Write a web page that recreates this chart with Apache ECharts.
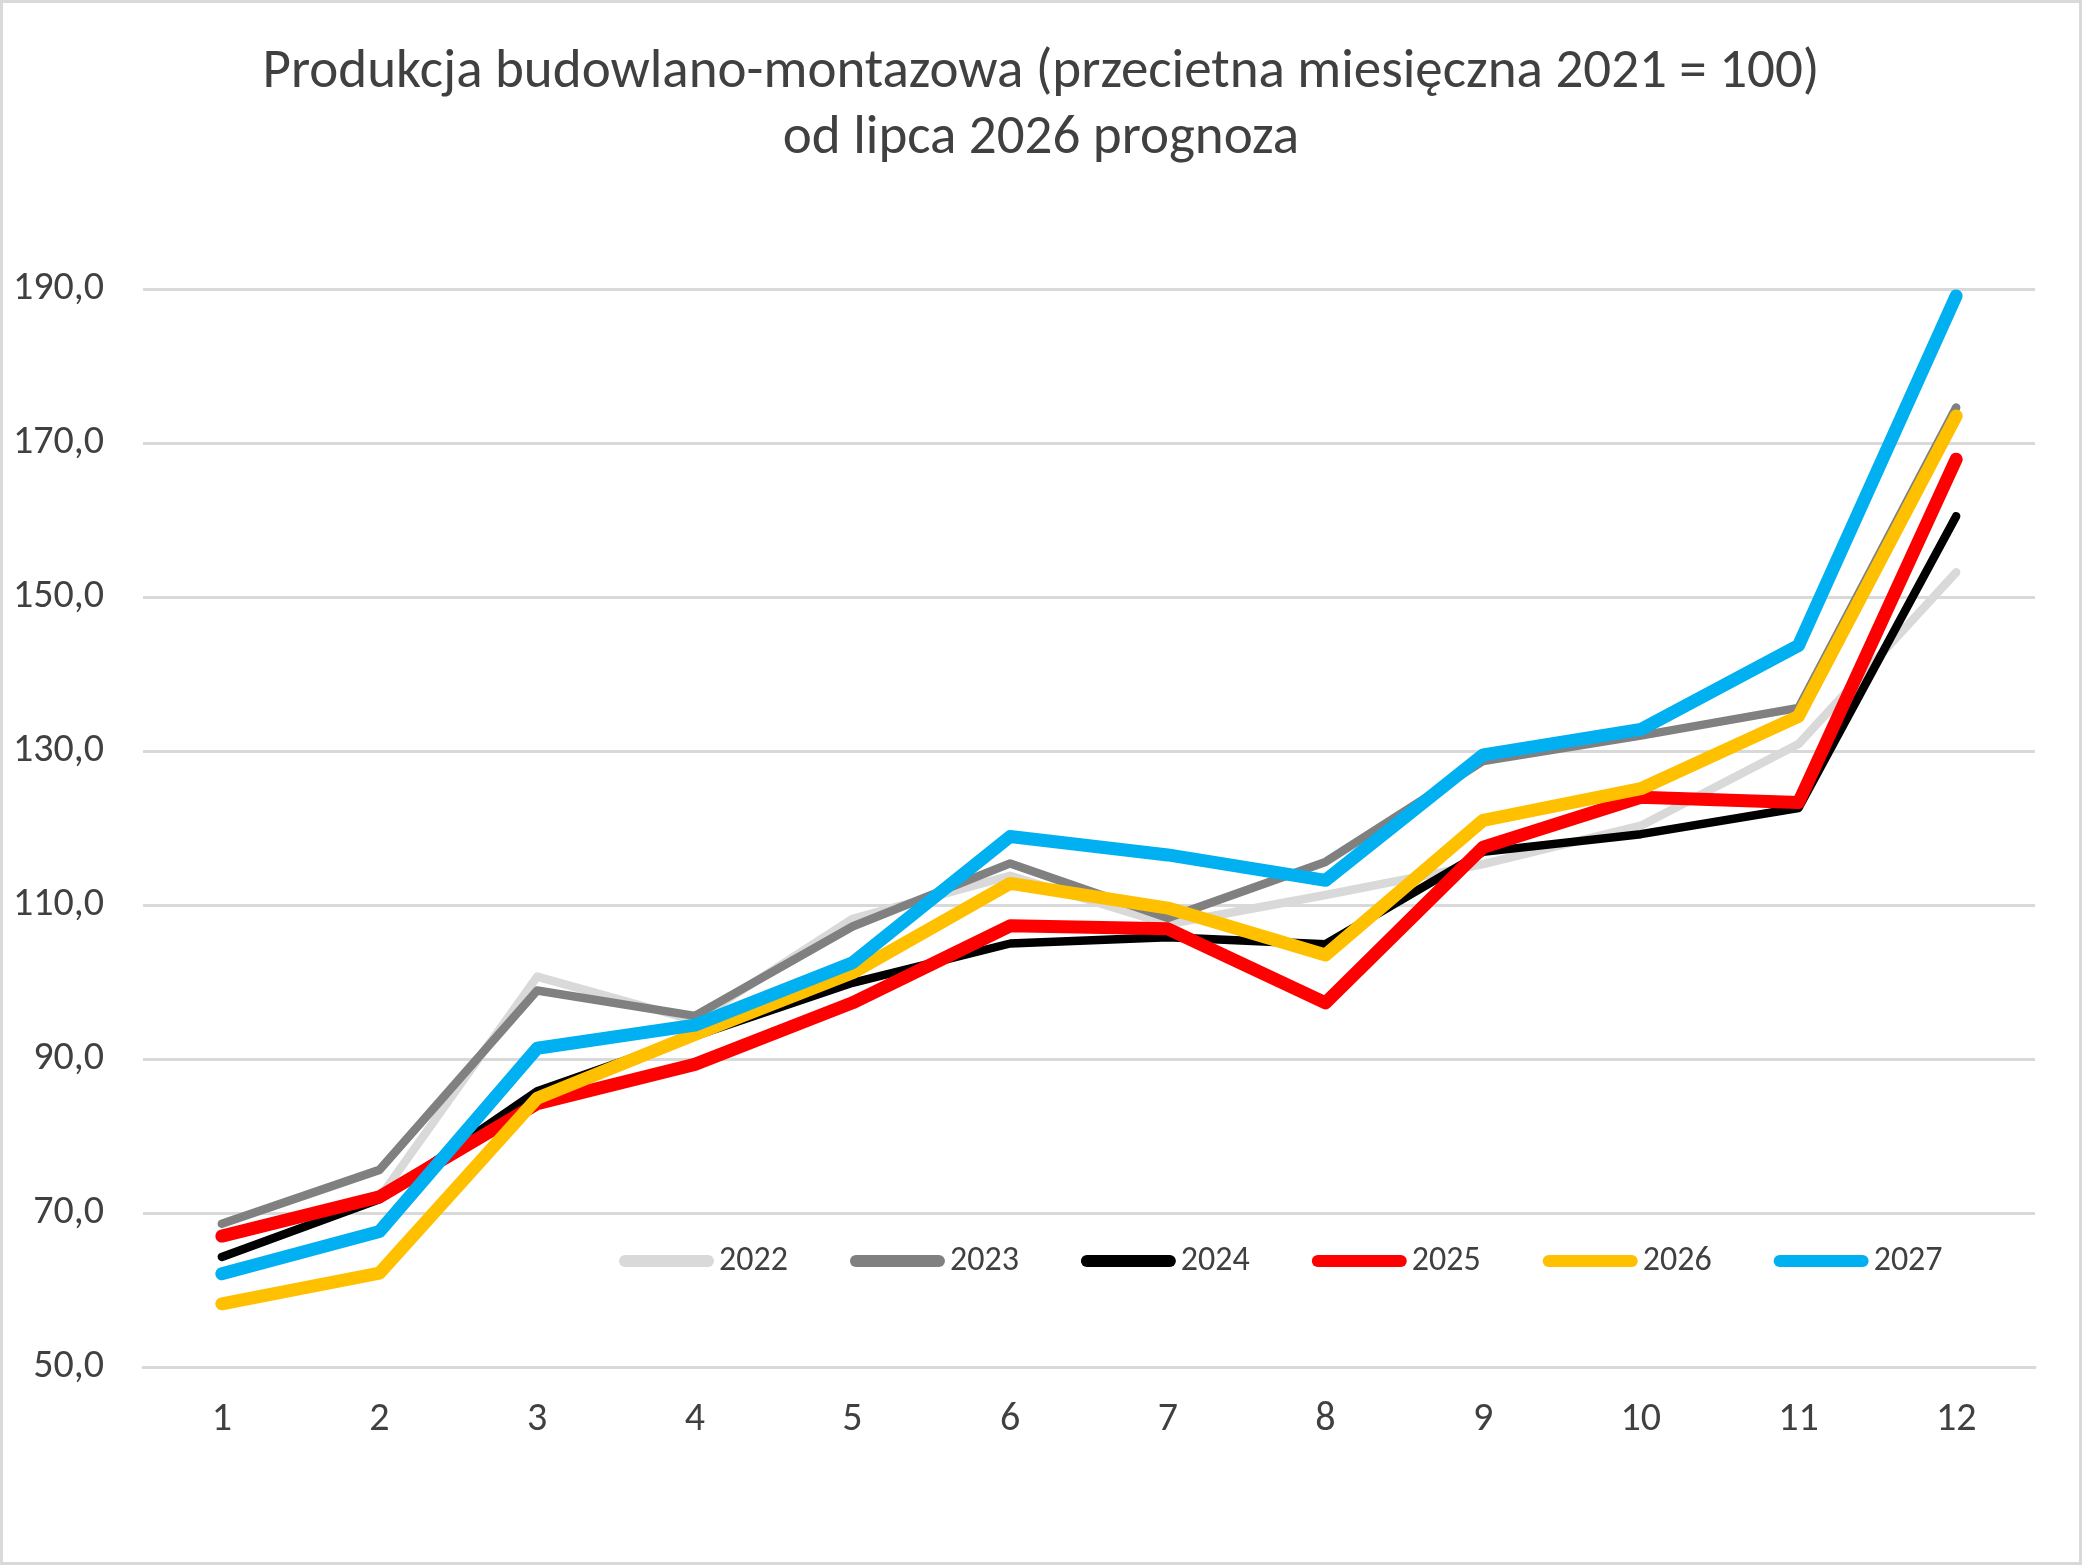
<!DOCTYPE html>
<html>
<head>
<meta charset="utf-8">
<script src="https://cdn.jsdelivr.net/npm/echarts@6/dist/echarts.min.js"></script>
<style>
  html, body { margin: 0; padding: 0; background: #fff; }
  #chart { width: 2082px; height: 1565px; }
</style>
</head>
<body>
<div id="chart"></div>
<script>
// months on the x axis
const months = ['1', '2', '3', '4', '5', '6', '7', '8', '9', '10', '11', '12'];

// yearly series
const y2022 = [66.8, 72.0, 100.7, 95.0, 108.2, 113.8, 107.5, 111.3, 115.3, 120.3, 130.9, 153.2];
const y2023 = [68.6, 75.6, 98.9, 95.6, 107.2, 115.4, 108.3, 115.6, 128.7, 132.0, 135.6, 174.6];
const y2024 = [64.3, 71.8, 85.8, 93.0, 99.9, 105.0, 105.8, 104.9, 116.9, 119.2, 122.6, 160.5];
const y2025 = [67.0, 72.1, 84.2, 89.3, 97.3, 107.3, 106.9, 97.3, 117.5, 124.0, 123.3, 167.9];
const y2026 = [58.2, 62.2, 84.9, 93.2, 101.2, 112.8, 109.6, 103.5, 121.0, 125.1, 134.5, 173.5];
const y2027 = [62.1, 67.6, 91.4, 94.4, 102.5, 118.9, 116.5, 113.2, 129.5, 132.8, 143.7, 189.1];

const years = ['2022', '2023', '2024', '2025', '2026', '2027'];
const values = [y2022, y2023, y2024, y2025, y2026, y2027];
const colors = ['#D9D9D9', '#808080', '#000000', '#FF0000', '#FFC000', '#00B0F0'];
const widths = [8.5, 8.5, 8.5, 13, 13, 13];

const font = 'Carlito, Lato, "Open Sans", sans-serif';
const textColor = '#404040';

const chart = echarts.init(document.getElementById('chart'));

// capsule-shaped legend marker
const capsule = 'path://M6,0 L89,0 A6,6 0 0 1 89,12 L6,12 A6,6 0 0 1 6,0 Z';

const series = years.map(function (name, i) {
  return {
    name: name,
    type: 'line',
    data: values[i],
    symbol: 'none',
    silent: true,
    lineStyle: { color: colors[i], width: widths[i], cap: 'round', join: 'round' },
    itemStyle: { color: colors[i] }
  };
});

chart.setOption({
  backgroundColor: '#fff',
  animation: false,
  textStyle: { fontFamily: font },
  title: {
    text: 'Produkcja budowlano-montazowa (przecietna miesięczna 2021 = 100)\nod lipca 2026 prognoza',
    left: 'center',
    top: 40,
    padding: 0,
    textStyle: {
      fontFamily: font,
      fontSize: 55,
      fontWeight: 'normal',
      color: textColor,
      lineHeight: 66
    }
  },
  legend: {
    data: years,
    left: 619,
    top: 1244,
    padding: 0,
    itemWidth: 95,
    itemHeight: 12,
    itemGap: 62,
    icon: capsule,
    textStyle: { fontFamily: font, fontSize: 34, color: textColor }
  },
  grid: { left: 143, right: 47, top: 289, bottom: 198, containLabel: false },
  xAxis: {
    type: 'category',
    data: months,
    boundaryGap: true,
    axisLine: { show: true, lineStyle: { color: '#D9D9D9', width: 3 } },
    axisTick: { show: false },
    axisLabel: { fontFamily: font, fontSize: 40, color: textColor, margin: 33 }
  },
  yAxis: {
    type: 'value',
    min: 50,
    max: 190,
    interval: 20,
    axisLine: { show: false },
    axisTick: { show: false },
    splitLine: { lineStyle: { color: '#D9D9D9', width: 3 } },
    axisLabel: {
      fontFamily: font,
      fontSize: 40,
      color: textColor,
      margin: 39,
      formatter: function (v) { return v.toFixed(1).replace('.', ','); }
    }
  },
  graphic: [{
    type: 'rect',
    silent: true,
    shape: { x: 1.5, y: 1.5, width: 2079, height: 1562 },
    style: { fill: 'none', stroke: '#D9D9D9', lineWidth: 3 }
  }],
  series: series
});
</script>
</body>
</html>
